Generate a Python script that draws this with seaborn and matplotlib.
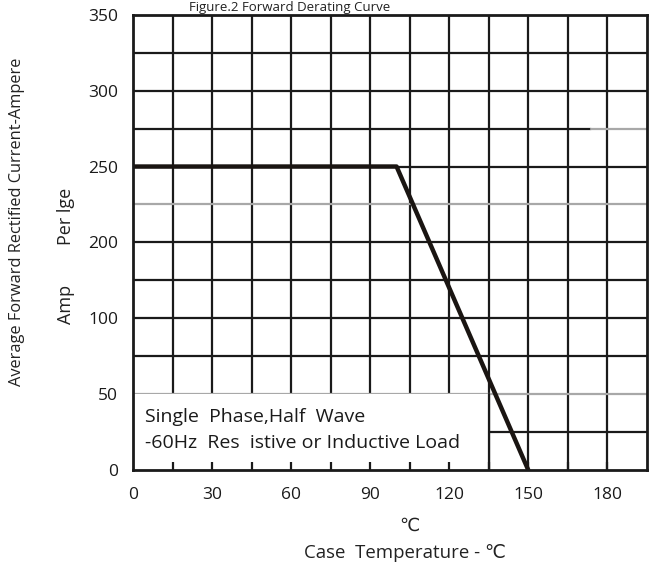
import numpy as np
import matplotlib
matplotlib.use("Agg")
import matplotlib.pyplot as plt
import seaborn as sns
from matplotlib.patches import Rectangle

# ---- data ----
temp_c = [0, 100, 150]
current_a = [250, 250, 0]
x_ticks = [0, 30, 60, 90, 120, 150, 180]
y_tick_labels = [0, 50, 100, 200, 250, 300, 350]
note_lines = ["Single  Phase,Half  Wave", "-60Hz  Res  istive or Inductive Load"]

sns.set_theme(style="white")
plt.rcParams['font.family'] = ['Open Sans', 'DejaVu Sans']

fig = plt.figure(figsize=(6.5, 5.69), dpi=100)
ax = fig.add_axes([0.205, 0.174, 0.79, 0.80])

# the printed axis spaces its labels evenly (150 is skipped)
pos = np.arange(len(y_tick_labels)) * 50.0
def fwd(y):
    return np.interp(y, y_tick_labels, pos)
def inv(p):
    return np.interp(p, pos, y_tick_labels)
ax.set_yscale('function', functions=(fwd, inv))
ax.set_xlim(0, 195)
ax.set_ylim(0, 350)

# grid
black = '#1a1a1a'
gray = '#a8a8a8'
box_w = 135
grid_x = np.arange(15, 195, 15)
for xv in grid_x:
    ax.axvline(xv, color=black, lw=1.6, zorder=1)
hlines = {25: black, 50: gray, 75: black, 100: black, 150: black,
          200: black, 225: gray, 250: black, 300: black, 325: black}
for yv, c in hlines.items():
    ax.axhline(yv, color=c, lw=1.6, zorder=1.2)
ax.axhline(275, xmin=0, xmax=174 / 195, color=black, lw=1.6, zorder=1.2)
ax.axhline(275, xmin=174 / 195, xmax=1, color=gray, lw=1.6, zorder=1.2)

# note box
ax.add_patch(Rectangle((0, 0), box_w, 50, facecolor='white', edgecolor='none', zorder=1.5))
ax.plot([box_w, box_w], [0, 50], color=black, lw=1.6, zorder=1.6)
# inward tick marks along the bottom (visible inside the note box)
ax.vlines(grid_x, 0, 0.018, transform=ax.get_xaxis_transform(), color=black, lw=1.6, zorder=1.7)
ax.text(4.5, 35, note_lines[0], fontsize=14, va='center', ha='left', color='#1a1a1a', zorder=2)
ax.text(4.5, 17.5, note_lines[1], fontsize=14, va='center', ha='left', color='#1a1a1a', zorder=2)

sns.lineplot(x=temp_c, y=current_a, ax=ax, color='#1a1512', lw=3.2, zorder=3)

ax.set_xticks(x_ticks)
ax.set_xticklabels([str(v) for v in x_ticks], fontsize=12.5)
ax.tick_params(axis='x', which='both', length=0, pad=12, labelcolor='#1a1a1a')
ax.set_yticks(y_tick_labels)
ax.set_yticklabels([str(v) for v in y_tick_labels], fontsize=12.5)
ax.tick_params(axis='y', which='both', length=0, pad=11, labelcolor='#1a1a1a')
ax.yaxis.set_minor_locator(matplotlib.ticker.NullLocator())
for s in ax.spines.values():
    s.set_color(black)
    s.set_linewidth(2)
    s.set_zorder(4)
ax.set_xlabel('')
ax.set_ylabel('')

# labels
fig.text(17 / 650, 1 - 222 / 569, 'Average Forward Rectified Current-Ampere', rotation=90,
         ha='center', va='center', fontsize=11.8, color='#222222')
fig.text(66 / 650, 1 - 216 / 569, 'Per lge', rotation=90, ha='center', va='center',
         fontsize=13, color='#222222')
fig.text(66 / 650, 1 - 304 / 569, 'Amp', rotation=90, ha='center', va='center',
         fontsize=13, color='#222222')
fig.text(409 / 650, 1 - 526 / 569, '\u2103', ha='center', va='center', fontsize=13, color='#222222')
fig.text(405 / 650, 1 - 553 / 569, 'Case  Temperature - \u2103', ha='center', va='center',
         fontsize=13.4, color='#222222')
fig.text(290 / 650, 1 - 1 / 569, 'Figure.2 Forward Derating Curve', ha='center', va='top',
         fontsize=9.5, color='#222222')

fig.savefig('out.png', dpi=100)
